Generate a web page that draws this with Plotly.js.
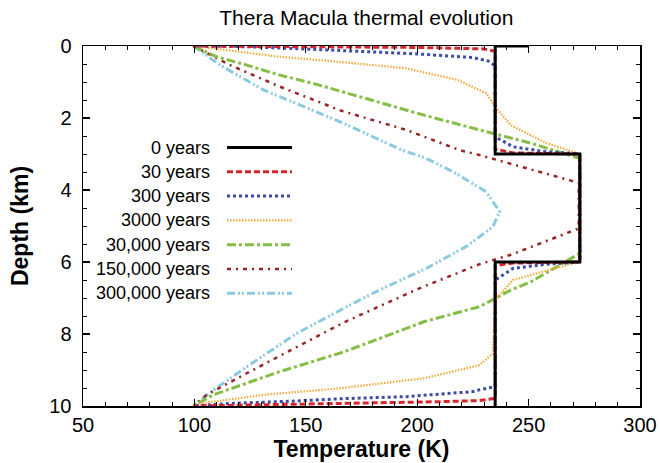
<!DOCTYPE html>
<html>
<head>
<meta charset="utf-8">
<script src="https://cdn.plot.ly/plotly-3.0.1.min.js"></script>
<style>html,body{margin:0;padding:0;background:#fff;}#chart{width:660px;height:463px;}</style>
</head>
<body>
<div id="chart"></div>
<script>
// Series names
const seriesNames = ["0 years","30 years","300 years","3000 years","30,000 years","150,000 years","300,000 years"];

// Temperature (K) and depth (km)
const t0    = [250,235,235,273,273,235,235];
const d0    = [0,0,3,3,6,6,10];

const t30   = [99.5,150,200,230,235,235,243,272,273,273,272,243,235,235,228,210,165,130,99.5];
const d30   = [0,0.02,0.04,0.08,0.15,2.86,2.97,3.0,3.02,5.98,6.0,6.03,6.1,9.79,9.85,9.88,9.93,9.97,10];

const t300  = [99.5,124,149,166,200,225,232,235,235,243,258,272,273,273,272,258,243,235,235,228,225,195,165,146,116,99.5];
const d300  = [0,0.02,0.08,0.13,0.22,0.32,0.42,0.55,2.52,2.8,2.94,2.99,3.02,5.98,6.01,6.06,6.18,6.5,9.46,9.55,9.6,9.74,9.8,9.86,9.93,10];

const t3k   = [99.5,108.5,138.4,165,195,218,231,235,242,258,272,273,273,272,258,243,235,234,228,225,203,165,131,102.5,99.5];
const d3k   = [0,0.07,0.3,0.44,0.62,0.94,1.31,1.69,2.2,2.7,2.98,3.05,5.95,6.0,6.25,6.5,7.06,8.54,8.86,8.91,9.23,9.51,9.69,9.93,10];

const t30k  = [99.5,110,123.5,138.4,153.4,168.4,203,228,242,251,273,273,251,242,228,203,167,138,108.5,99.5];
const d30k  = [0,0.3,0.53,0.81,1.04,1.31,1.92,2.33,2.56,2.7,3.12,5.76,6.55,6.78,7.24,7.66,8.5,9.05,9.69,10];

const t150k = [99.5,116,138.4,166,195,219,228,241.6,271.6,272.5,272.5,242,228,201,167,146,123.5,105.5,99.5];
const d150k = [0,0.53,1.13,1.8,2.33,2.89,3.03,3.26,3.77,3.8,5.07,5.8,6.06,6.73,7.68,8.35,9.09,9.69,10];

const t300k = [99.5,111.5,131,166,193,204,216,231,237,234,222,204,183,170,146,123.5,108.5,99.5];
const d300k = [0,0.53,1.22,2.12,2.89,3.12,3.49,4.05,4.6,5.02,5.57,6.18,6.78,7.19,7.98,8.91,9.56,10];

// Axis ticks
const xTicks = [50,100,150,200,250,300];
const yTicks = [0,2,4,6,8,10];

const styles = [
  {color:"#000000", width:3,   dash:"solid"},
  {color:"#d7262b", width:3,   dash:"6px,3px"},
  {color:"#3c4ba8", width:3,   dash:"3px,3px"},
  {color:"#f2a93b", width:2.2, dash:"1.5px,1.5px"},
  {color:"#84be45", width:3,   dash:"9px,3px,3px,3px"},
  {color:"#962427", width:2.5, dash:"4px,5px,2px,5px"},
  {color:"#8ccbdf", width:3,   dash:"8px,3px,2px,2px,2px,3px"}
];

const xs = [t0,t30,t300,t3k,t30k,t150k,t300k];
const ys = [d0,d30,d300,d3k,d30k,d150k,d300k];

// Draw later series first so black/red sit on top as in the reference
const traces = [];
for (let i = xs.length - 1; i >= 0; i--) {
  traces.push({
    x: xs[i], y: ys[i], name: seriesNames[i], type: "scatter", mode: "lines",
    line: {color: styles[i].color, width: styles[i].width, dash: styles[i].dash},
    showlegend: false, hoverinfo: "skip"
  });
}

// Manual legend: text right-aligned, sample line to the right
const FONT = "Liberation Sans, Arial, Helvetica, sans-serif";
const annotations = [];
const shapes = [];
const legTop = 147.5, legStep = 24.3;
for (let i = 0; i < seriesNames.length; i++) {
  const yPx = legTop + i * legStep;
  const yPaper = 1 - (yPx - 46) / 360;
  annotations.push({
    xref: "paper", yref: "paper", x: (212 - 83) / 557, y: yPaper,
    xanchor: "right", yanchor: "middle", showarrow: false,
    text: seriesNames[i], font: {family: FONT, size: 18, color: "#000"}
  });
  shapes.push({
    type: "line", xref: "paper", yref: "paper",
    x0: (227 - 83) / 557, x1: (292 - 83) / 557, y0: yPaper, y1: yPaper,
    line: {color: styles[i].color, width: styles[i].width, dash: styles[i].dash}
  });
}

const axisCommon = {
  showgrid: false, zeroline: false, showline: true, linecolor: "#000", linewidth: 1.5,
  mirror: "allticks", ticks: "inside", ticklen: 7, tickwidth: 1.2, tickcolor: "#000",
  tickfont: {family: FONT, size: 20, color: "#000"}
};

const layout = {
  width: 660, height: 463,
  margin: {l: 83, r: 20, t: 46, b: 57},
  paper_bgcolor: "#fff", plot_bgcolor: "#fff",
  title: {text: "Thera Macula thermal evolution", x: 0.555, xanchor: "center", y: 0.962, yanchor: "middle",
          font: {family: FONT, size: 21, color: "#000"}},
  xaxis: Object.assign({}, axisCommon, {
    range: [50, 300], tickvals: xTicks, ticktext: xTicks.map(String),
    minor: {dtick: 10, tick0: 50, ticks: "inside", ticklen: 4, tickcolor: "#000", tickwidth: 1},
    title: {text: "<b>Temperature (K)</b>", standoff: 6, font: {family: FONT, size: 23, color: "#000"}}
  }),
  yaxis: Object.assign({}, axisCommon, {
    range: [10, 0], tickvals: yTicks, ticktext: yTicks.map(String),
    minor: {dtick: 0.5, tick0: 0, ticks: "inside", ticklen: 4, tickcolor: "#000", tickwidth: 1},
    ticklabelstandoff: 6,
    title: {text: "<b>Depth (km)</b>", standoff: 14, font: {family: FONT, size: 23, color: "#000"}}
  }),
  annotations: annotations,
  shapes: shapes
};

Plotly.newPlot("chart", traces, layout, {displayModeBar: false, staticPlot: true});
</script>
</body>
</html>
